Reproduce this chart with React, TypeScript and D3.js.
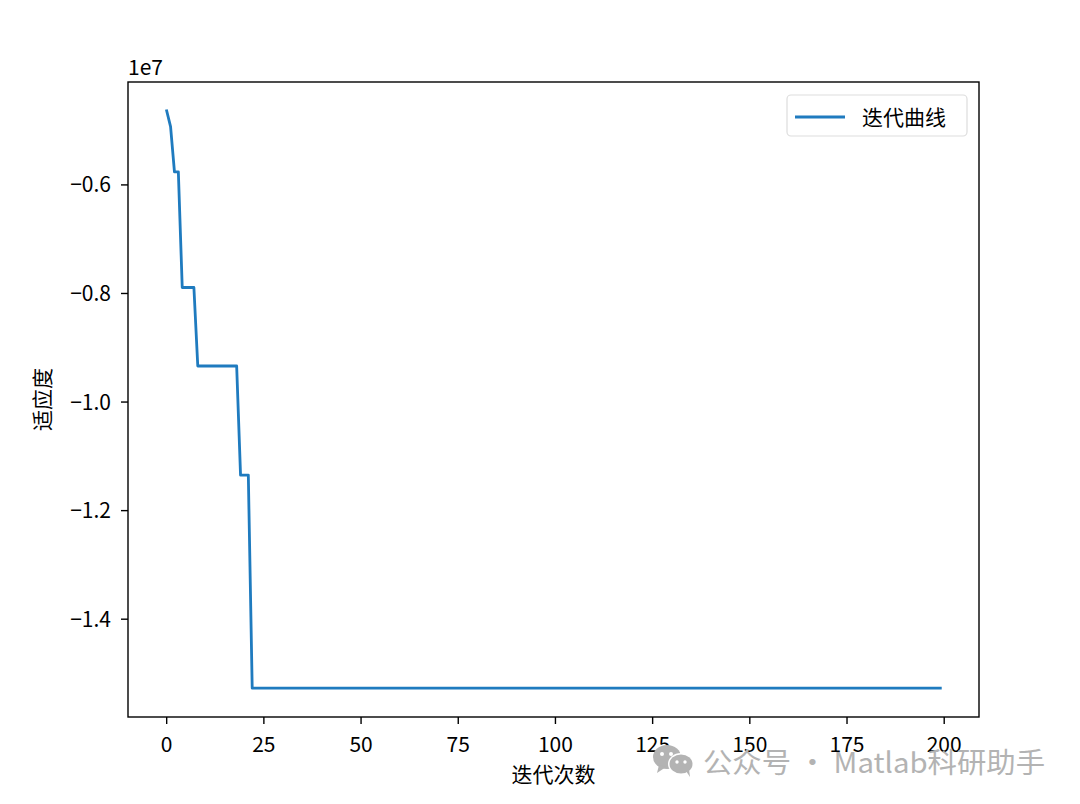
import React from "react";
import * as d3 from "d3";

const W = 1080;
const H = 804;
const FONT = "'Noto Sans CJK SC', 'Noto Sans', sans-serif";

// fitness values (units of 1e7), iterations 0..199
const stepValues = [-0.4636, -0.4926, -0.576, -0.576, -0.789, -0.789, -0.789, -0.789];
const plateau8 = -0.9336; // iterations 8..18
const plateau19 = -1.1346; // iterations 19..21
const finalValue = -1.527; // iterations 22..199
const xTicks = [0, 25, 50, 75, 100, 125, 150, 175, 200];
const yTicks = [-1.4, -1.2, -1.0, -0.8, -0.6];

const fitness: number[] = [
  ...stepValues,
  ...Array(11).fill(plateau8),
  ...Array(3).fill(plateau19),
  ...Array(178).fill(finalValue),
];

const L = 128, R = 979, T = 82, B = 717;

export default function App() {
  const n = fitness.length;
  const xPad = (n - 1) * 0.05;
  const x = d3.scaleLinear().domain([0 - xPad, n - 1 + xPad]).range([L, R]);
  const ymin = d3.min(fitness)!;
  const ymax = d3.max(fitness)!;
  const yPad = (ymax - ymin) * 0.05;
  const y = d3.scaleLinear().domain([ymin - yPad, ymax + yPad]).range([B, T]);
  const line = d3
    .line<number>()
    .x((_, i) => x(i))
    .y((d) => y(d));
  const fmt = (v: number) => (v < 0 ? "\u2212" : "") + Math.abs(v).toFixed(1);

  return (
    <svg width={W} height={H} style={{ position: "absolute", left: 0, top: 0, background: "#fff" }}>
      <rect x={0} y={0} width={W} height={H} fill="#fff" />
      <path d={line(fitness) || ""} fill="none" stroke="#1f7bbf" strokeWidth={2.8} strokeLinejoin="round" strokeLinecap="square" />
      <rect x={L} y={T} width={R - L} height={B - T} fill="none" stroke="#000" strokeWidth={1.4} />
      {xTicks.map((t) => (
        <g key={"x" + t}>
          <line x1={x(t)} x2={x(t)} y1={B} y2={B + 7} stroke="#000" strokeWidth={1.4} />
          <text x={x(t)} y={B + 35} textAnchor="middle" fontFamily={FONT} fontSize={21} fill="#000">
            {t}
          </text>
        </g>
      ))}
      {yTicks.map((t) => (
        <g key={"y" + t}>
          <line x1={L - 7} x2={L} y1={y(t)} y2={y(t)} stroke="#000" strokeWidth={1.4} />
          <text x={L - 17} y={y(t) + 7.5} textAnchor="end" fontFamily={FONT} fontSize={21} fill="#000">
            {fmt(t)}
          </text>
        </g>
      ))}
      <text x={L} y={T - 7} fontFamily={FONT} fontSize={21} fill="#000">1e7</text>
      <text x={(L + R) / 2} y={782} textAnchor="middle" fontFamily={FONT} fontSize={21} fill="#000">迭代次数</text>
      <text transform={`translate(50,${(T + B) / 2}) rotate(-90)`} textAnchor="middle" fontFamily={FONT} fontSize={21} fill="#000">适应度</text>
      {/* legend */}
      <rect x={787} y={95} width={180} height={41} rx={4} fill="#fff" stroke="#ddd" strokeWidth={1.2} />
      <line x1={795} x2={845} y1={117} y2={117} stroke="#1f7bbf" strokeWidth={2.8} />
      <text x={862} y={124.5} fontFamily={FONT} fontSize={21} fill="#000">迭代曲线</text>
      {/* watermark */}
      <g fill="#b3b3b3">
        <ellipse cx={667} cy={757} rx={14} ry={12} />
        <path d="M659,765 L657,773 L666,767 Z" />
        <ellipse cx={681} cy={764} rx={13} ry={11} fill="#fff" />
        <ellipse cx={681} cy={764} rx={11.5} ry={9.5} />
        <path d="M686,771 L690,777 L689,769 Z" />
        <circle cx={662} cy={754} r={2} fill="#fff" />
        <circle cx={671} cy={754} r={2} fill="#fff" />
        <circle cx={677} cy={762} r={1.7} fill="#fff" />
        <circle cx={685} cy={762} r={1.7} fill="#fff" />
      </g>
      <text x={703} y={773} fontFamily={FONT} fontSize={28} fill="#b3b3b3" textLength={342} lengthAdjust="spacingAndGlyphs">公众号 · Matlab科研助手</text>
    </svg>
  );
}
